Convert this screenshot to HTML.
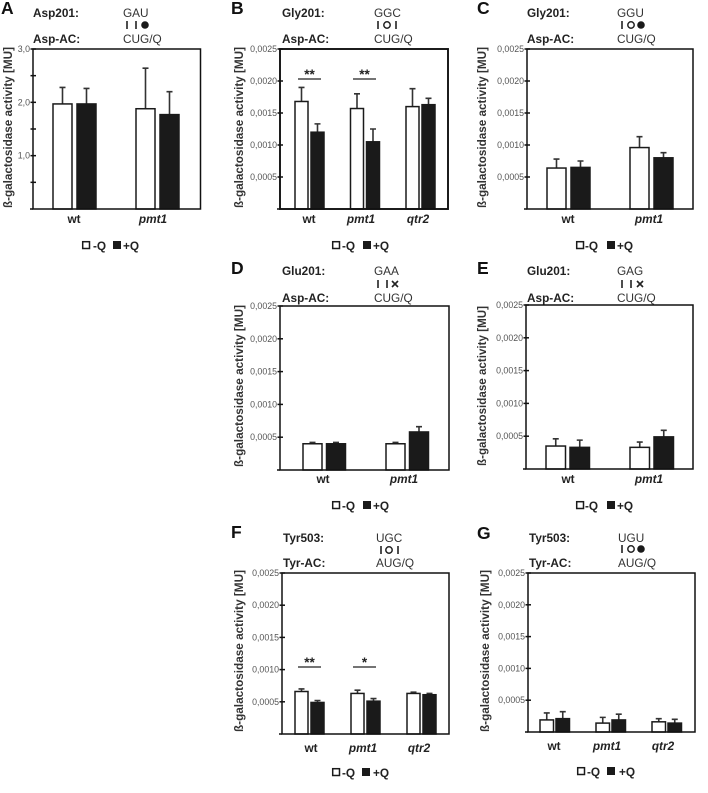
<!DOCTYPE html>
<html lang="en">
<head>
<meta charset="utf-8">
<title>Beta-galactosidase activity panels</title>
<style>
html,body{margin:0;padding:0;background:#fff;}
body{width:708px;height:793px;overflow:hidden;}
svg{display:block;filter:blur(0.35px);font-family:"Liberation Sans",Arial,sans-serif;}
</style>
</head>
<body>
<svg id="figure" width="708" height="793" viewBox="0 0 708 793" xmlns="http://www.w3.org/2000/svg"></svg>
<script>
const categoriesTwo = ['wt', 'pmt1'];
const categoriesThree = ['wt', 'pmt1', 'qtr2'];

const tickValuesA = [0.5, 1, 1.5, 2, 2.5, 3];
const tickLabelsA = ['', '1,0', '', '2,0', '', '3,0'];
const tickValuesRest = [0.0005, 0.001, 0.0015, 0.002, 0.0025];
const tickLabelsRest = ['0,0005', '0,0010', '0,0015', '0,0020', '0,0025'];

const aMinusQ = [1.97, 1.88];
const aPlusQ = [1.97, 1.77];
const aMinusErr = [0.31, 0.76];
const aPlusErr = [0.29, 0.43];

const bMinusQ = [0.00168, 0.00157, 0.0016];
const bPlusQ = [0.0012, 0.00105, 0.00163];
const bMinusErr = [0.00022, 0.00023, 0.00028];
const bPlusErr = [0.00013, 0.0002, 0.0001];

const cMinusQ = [0.00064, 0.00096];
const cPlusQ = [0.00065, 0.0008];
const cMinusErr = [0.00014, 0.00017];
const cPlusErr = [0.0001, 0.00008];

const dMinusQ = [0.0004, 0.0004];
const dPlusQ = [0.0004, 0.00058];
const dMinusErr = [0.00002, 0.00002];
const dPlusErr = [0.00002, 0.00008];

const eMinusQ = [0.00035, 0.00033];
const ePlusQ = [0.00033, 0.00049];
const eMinusErr = [0.00011, 0.00008];
const ePlusErr = [0.00011, 0.0001];

const fMinusQ = [0.00066, 0.00063, 0.00063];
const fPlusQ = [0.00049, 0.00051, 0.00061];
const fMinusErr = [0.00004, 0.00005, 0.00002];
const fPlusErr = [0.00003, 0.00004, 0.00002];

const gMinusQ = [0.00019, 0.00014, 0.00016];
const gPlusQ = [0.00021, 0.00019, 0.00014];
const gMinusErr = [0.00011, 0.00009, 0.00005];
const gPlusErr = [0.00011, 0.00009, 0.00006];

const panels = [
  {id:'A', lx:1, ly:14, l:33, r:200.5, t:49, b:209, ymax:3, tv:tickValuesA, tl:tickLabelsA, cats:categoriesTwo,
   minus:aMinusQ, plus:aPlusQ, minusErr:aMinusErr, plusErr:aPlusErr,
   x0:53, pitch:24, step:83, w:19, catX:[74,153], catY:223, titleX:12, titleTop:47, titleBot:208,
   h1:'Asp201:', h2:'Asp-AC:', hx:33, hy1:17, hy2:43, codon:'GAU', pair:'CUG/Q', cx:123,
   sy:25, sx:[127,136,145], sym:['bar','bar','filled'], legX:[82,93,113,123], legY:250, sig:[]},
  {id:'B', lx:231, ly:14, l:280, r:448, t:49, b:209, ymax:0.0025, tv:tickValuesRest, tl:tickLabelsRest, cats:categoriesThree,
   minus:bMinusQ, plus:bPlusQ, minusErr:bMinusErr, plusErr:bPlusErr,
   x0:295, pitch:16, step:55.5, w:13, catX:[309,361,418], catY:223, titleX:243, titleTop:47, titleBot:208,
   h1:'Gly201:', h2:'Asp-AC:', hx:282, hy1:17, hy2:43, codon:'GGC', pair:'CUG/Q', cx:374,
   sy:25, sx:[378,387,396], sym:['bar','open','bar'], legX:[332,342,363,373], legY:250,
   sig:[{a:298,b:321,y:79,s:'**'},{a:353,b:376,y:79,s:'**'}]},
  {id:'C', lx:477, ly:14, l:527, r:693, t:49, b:209, ymax:0.0025, tv:tickValuesRest, tl:tickLabelsRest, cats:categoriesTwo,
   minus:cMinusQ, plus:cPlusQ, minusErr:cMinusErr, plusErr:cPlusErr,
   x0:547, pitch:24, step:83, w:19, catX:[568,649], catY:223, titleX:486, titleTop:47, titleBot:208,
   h1:'Gly201:', h2:'Asp-AC:', hx:527, hy1:17, hy2:43, codon:'GGU', pair:'CUG/Q', cx:617,
   sy:25, sx:[622,631,641], sym:['bar','open','filled'], legX:[576,585,607,617], legY:250, sig:[]},
  {id:'D', lx:231, ly:274, l:280, r:449, t:306, b:470, ymax:0.0025, tv:tickValuesRest, tl:tickLabelsRest, cats:categoriesTwo,
   minus:dMinusQ, plus:dPlusQ, minusErr:dMinusErr, plusErr:dPlusErr,
   x0:303, pitch:23.5, step:83, w:19, catX:[323,404], catY:483, titleX:243, titleTop:305, titleBot:467,
   h1:'Glu201:', h2:'Asp-AC:', hx:282, hy1:275, hy2:302, codon:'GAA', pair:'CUG/Q', cx:374,
   sy:284, sx:[378,387,395], sym:['bar','bar','cross'], legX:[332,342,363,373], legY:510, sig:[]},
  {id:'E', lx:477, ly:274, l:526, r:693, t:305, b:469, ymax:0.0025, tv:tickValuesRest, tl:tickLabelsRest, cats:categoriesTwo,
   minus:eMinusQ, plus:ePlusQ, minusErr:eMinusErr, plusErr:ePlusErr,
   x0:546, pitch:24, step:84, w:19.5, catX:[568,649], catY:483, titleX:486, titleTop:306, titleBot:466,
   h1:'Glu201:', h2:'Asp-AC:', hx:527, hy1:275, hy2:302, codon:'GAG', pair:'CUG/Q', cx:617,
   sy:284, sx:[622,631,640], sym:['bar','bar','cross'], legX:[576,585,607,617], legY:510, sig:[]},
  {id:'F', lx:231, ly:538, l:282, r:449, t:573, b:734, ymax:0.0025, tv:tickValuesRest, tl:tickLabelsRest, cats:categoriesThree,
   minus:fMinusQ, plus:fPlusQ, minusErr:fMinusErr, plusErr:fPlusErr,
   x0:295, pitch:16, step:56, w:13, catX:[311,363,419], catY:752, titleX:243, titleTop:570, titleBot:732,
   h1:'Tyr503:', h2:'Tyr-AC:', hx:283, hy1:542, hy2:567, codon:'UGC', pair:'AUG/Q', cx:376,
   sy:550, sx:[381,389,398], sym:['bar','open','bar'], legX:[332,342,362,373], legY:777,
   sig:[{a:298,b:321,y:667,s:'**'},{a:353,b:376,y:667,s:'*'}]},
  {id:'G', lx:477, ly:539, l:528, r:695, t:573, b:732, ymax:0.0025, tv:tickValuesRest, tl:tickLabelsRest, cats:categoriesThree,
   minus:gMinusQ, plus:gPlusQ, minusErr:gMinusErr, plusErr:gPlusErr,
   x0:540, pitch:16, step:56, w:13.5, catX:[554,607,663], catY:750, titleX:489, titleTop:570, titleBot:732,
   h1:'Tyr503:', h2:'Tyr-AC:', hx:529, hy1:542, hy2:567, codon:'UGU', pair:'AUG/Q', cx:618,
   sy:549, sx:[622,631,641], sym:['bar','open','filled'], legX:[577,587,607,619], legY:776, sig:[]}
];

const NS = 'http://www.w3.org/2000/svg';
const root = document.getElementById('figure');

function make(tag, attrs, parent, text) {
  const node = document.createElementNS(NS, tag);
  for (const k in attrs) node.setAttribute(k, attrs[k]);
  if (text !== undefined) node.textContent = text;
  parent.appendChild(node);
  return node;
}

function yScale(p, v) {
  return p.b - (v / p.ymax) * (p.b - p.t);
}

function xGroup(p, i) {
  return p.x0 + i * p.step;
}

function drawSymbol(g, kind, x, y) {
  if (kind === 'bar') {
    const s = make('line', {x1:x, x2:x, y1:y-4, y2:y+4, stroke:'#222', 'stroke-width':1.6}, g);
    
    
  } else if (kind === 'open') {
    const s = make('circle', {cx:x, cy:y, r:3.2, fill:'#fff', stroke:'#222', 'stroke-width':1.5}, g);
    
    
  } else if (kind === 'filled') {
    const s = make('circle', {cx:x, cy:y, r:3.8, fill:'#1a1a1a'}, g);
    
    
  } else {
    const s = make('path', {d:`M${x-3} ${y-3}L${x+3} ${y+3}M${x+3} ${y-3}L${x-3} ${y+3}`, stroke:'#222', 'stroke-width':1.6, fill:'none'}, g);
    
    
  }
}

function drawBar(g, p, x, value, err, filled) {
  const top = yScale(p, value);
  const errTop = yScale(p, value + err);
  const cx = x + p.w / 2;
  const stem = make('path', {d:`M${cx} ${top}V${errTop}M${cx-3} ${errTop}H${cx+3}`, stroke:'#333', 'stroke-width':1.6, fill:'none'}, g);
  
  
  const bar = make('rect', {x:x, y:top, width:p.w, height:p.b-top, fill:filled?'#1a1a1a':'#fff', stroke:'#1a1a1a', 'stroke-width':1.5}, g);
  
  
}

panels.forEach(function (p) {
  const g = make('g', {}, root);
  
  

  const letter = make('text', {x:p.lx, y:p.ly, 'font-size':17.5, 'font-weight':'bold', fill:'#111'}, g, p.id);
  
  

  const h1 = make('text', {x:p.hx, y:p.hy1, 'font-size':11.8, 'font-weight':'bold', fill:'#222'}, g, p.h1);
  
  
  const h2 = make('text', {x:p.hx, y:p.hy2, 'font-size':11.8, 'font-weight':'bold', fill:'#222'}, g, p.h2);
  
  
  const codon = make('text', {x:p.cx, y:p.hy1, 'font-size':11.8, fill:'#333'}, g, p.codon);
  
  
  const pair = make('text', {x:p.cx, y:p.hy2, 'font-size':11.8, fill:'#333'}, g, p.pair);
  
  
  p.sym.forEach(function (kind, i) { drawSymbol(g, kind, p.sx[i], p.sy); });

  p.cats.forEach(function (cat, i) {
    const gx = xGroup(p, i);
    drawBar(g, p, gx, p.minus[i], p.minusErr[i], false);
    drawBar(g, p, gx + p.pitch, p.plus[i], p.plusErr[i], true);
    const lab = make('text', {x:p.catX[i], y:p.catY, 'font-size':11.8, 'font-weight':'bold', 'text-anchor':'middle', 'font-style':i===0?'normal':'italic', fill:'#222'}, g, cat);
    
    
  });

  const frame = make('rect', {x:p.l, y:p.t, width:p.r-p.l, height:p.b-p.t, fill:'none', stroke:'#111', 'stroke-width':p.id==='B'?1.9:1.5}, g);
  
  
  const base = make('line', {x1:p.l-3, x2:p.l, y1:p.b, y2:p.b, stroke:'#111', 'stroke-width':1.5}, g);
  
  

  p.tv.forEach(function (v, i) {
    const y = yScale(p, v);
    const tick = make('line', {x1:p.l-2.5, x2:p.l+3, y1:y, y2:y, stroke:'#111', 'stroke-width':1.5}, g);
    
    
    if (p.tl[i]) {
      const t = make('text', {x:p.l-3, y:y+3, 'font-size':8.8, 'text-anchor':'end', fill:'#555'}, g, p.tl[i]);
      
      
    }
  });

  const title = make('text', {transform:`translate(${p.titleX},${p.titleBot}) rotate(-90)`, 'font-size':11.6, 'font-weight':'bold', fill:'#333', textLength:p.titleBot-p.titleTop, lengthAdjust:'spacingAndGlyphs'}, g, 'ß-galactosidase activity [MU]');
  
  

  p.sig.forEach(function (s) {
    const line = make('line', {x1:s.a, x2:s.b, y1:s.y, y2:s.y, stroke:'#222', 'stroke-width':1.3}, g);
    
    
    const star = make('text', {x:(s.a+s.b)/2, y:s.y, 'font-size':13.5, 'font-weight':'bold', 'text-anchor':'middle', fill:'#222'}, g, s.s);
    
    
  });

  const box1 = make('rect', {x:p.legX[0]+0.7, y:p.legY-8.3, width:6.8, height:6.8, fill:'#fff', stroke:'#1a1a1a', 'stroke-width':1.5}, g);
  
  
  const leg1 = make('text', {x:p.legX[1], y:p.legY, 'font-size':11.8, 'font-weight':'bold', fill:'#222'}, g, '-Q');
  
  
  const box2 = make('rect', {x:p.legX[2], y:p.legY-9, width:8, height:8, fill:'#1a1a1a'}, g);
  
  
  const leg2 = make('text', {x:p.legX[3], y:p.legY, 'font-size':11.8, 'font-weight':'bold', fill:'#222'}, g, '+Q');
  
  
});
</script>
</body>
</html>
